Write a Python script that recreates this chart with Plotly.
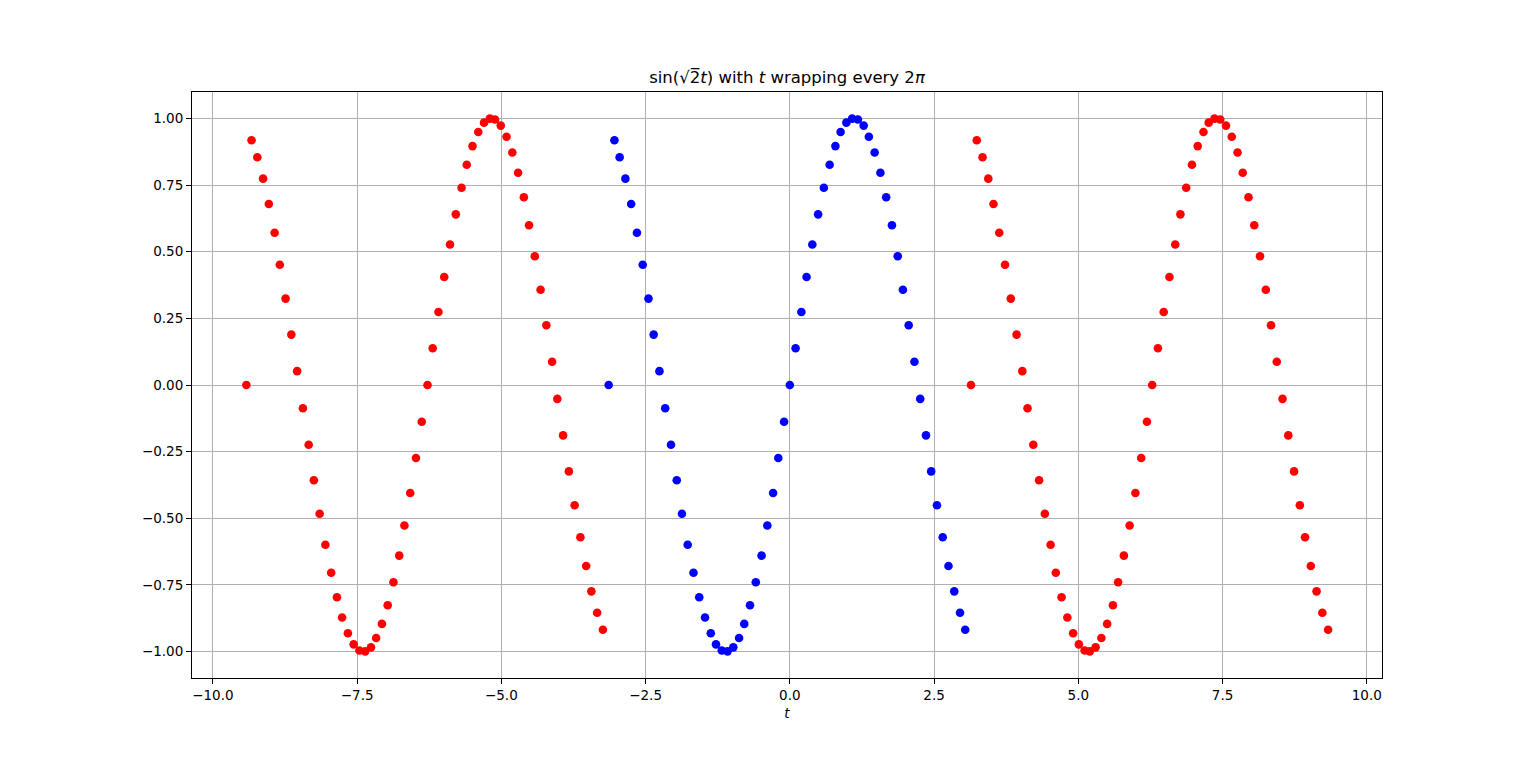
import plotly.graph_objects as go

# t values (wrapped segments)
t_left = [-9.42, -9.33, -9.23, -9.13, -9.03, -8.93, -8.84, -8.74, -8.64, -8.54, -8.44, -8.34, -8.25, -8.15, -8.05, -7.95,
          -7.85, -7.76, -7.66, -7.56, -7.46, -7.36, -7.26, -7.17, -7.07, -6.97, -6.87, -6.77, -6.68, -6.58, -6.48, -6.38,
          -6.28, -6.19, -6.09, -5.99, -5.89, -5.79, -5.69, -5.60, -5.50, -5.40, -5.30, -5.20, -5.11, -5.01, -4.91, -4.81,
          -4.71, -4.61, -4.52, -4.42, -4.32, -4.22, -4.12, -4.03, -3.93, -3.83, -3.73, -3.63, -3.53, -3.44, -3.34, -3.24]
t_mid = [-3.14, -3.04, -2.95, -2.85, -2.75, -2.65, -2.55, -2.45, -2.36, -2.26, -2.16, -2.06, -1.96, -1.87, -1.77, -1.67,
         -1.57, -1.47, -1.37, -1.28, -1.18, -1.08, -0.98, -0.88, -0.79, -0.69, -0.59, -0.49, -0.39, -0.29, -0.20, -0.10,
         0.00, 0.10, 0.20, 0.29, 0.39, 0.49, 0.59, 0.69, 0.79, 0.88, 0.98, 1.08, 1.18, 1.28, 1.37, 1.47,
         1.57, 1.67, 1.77, 1.87, 1.96, 2.06, 2.16, 2.26, 2.36, 2.45, 2.55, 2.65, 2.75, 2.85, 2.95, 3.04]
t_right = [3.14, 3.24, 3.34, 3.44, 3.53, 3.63, 3.73, 3.83, 3.93, 4.03, 4.12, 4.22, 4.32, 4.42, 4.52, 4.61,
           4.71, 4.81, 4.91, 5.01, 5.11, 5.20, 5.30, 5.40, 5.50, 5.60, 5.69, 5.79, 5.89, 5.99, 6.09, 6.19,
           6.28, 6.38, 6.48, 6.58, 6.68, 6.77, 6.87, 6.97, 7.07, 7.17, 7.26, 7.36, 7.46, 7.56, 7.66, 7.76,
           7.85, 7.95, 8.05, 8.15, 8.25, 8.34, 8.44, 8.54, 8.64, 8.74, 8.84, 8.93, 9.03, 9.13, 9.23, 9.33]

y_left = [0.000, 0.918, 0.854, 0.774, 0.679, 0.571, 0.451, 0.324, 0.189, 0.052, -0.087, -0.224, -0.357, -0.483, -0.599, -0.704,
          -0.796, -0.872, -0.931, -0.973, -0.996, -0.999, -0.984, -0.949, -0.896, -0.826, -0.740, -0.640, -0.527, -0.405, -0.274, -0.138,
          0.000, 0.138, 0.274, 0.405, 0.527, 0.640, 0.740, 0.826, 0.896, 0.949, 0.984, 0.999, 0.996, 0.973, 0.931, 0.872,
          0.796, 0.704, 0.599, 0.483, 0.357, 0.224, 0.087, -0.052, -0.189, -0.324, -0.451, -0.571, -0.679, -0.774, -0.854, -0.918]
y_mid = [0.000, 0.918, 0.854, 0.774, 0.679, 0.571, 0.451, 0.324, 0.189, 0.052, -0.087, -0.224, -0.357, -0.483, -0.599, -0.704,
         -0.796, -0.872, -0.931, -0.973, -0.996, -0.999, -0.984, -0.949, -0.896, -0.826, -0.740, -0.640, -0.527, -0.405, -0.274, -0.138,
         0.000, 0.138, 0.274, 0.405, 0.527, 0.640, 0.740, 0.826, 0.896, 0.949, 0.984, 0.999, 0.996, 0.973, 0.931, 0.872,
         0.796, 0.704, 0.599, 0.483, 0.357, 0.224, 0.087, -0.052, -0.189, -0.324, -0.451, -0.571, -0.679, -0.774, -0.854, -0.918]
y_right = [0.000, 0.918, 0.854, 0.774, 0.679, 0.571, 0.451, 0.324, 0.189, 0.052, -0.087, -0.224, -0.357, -0.483, -0.599, -0.704,
           -0.796, -0.872, -0.931, -0.973, -0.996, -0.999, -0.984, -0.949, -0.896, -0.826, -0.740, -0.640, -0.527, -0.405, -0.274, -0.138,
           0.000, 0.138, 0.274, 0.405, 0.527, 0.640, 0.740, 0.826, 0.896, 0.949, 0.984, 0.999, 0.996, 0.973, 0.931, 0.872,
           0.796, 0.704, 0.599, 0.483, 0.357, 0.224, 0.087, -0.052, -0.189, -0.324, -0.451, -0.571, -0.679, -0.774, -0.854, -0.918]

x_ticks = [-10.0, -7.5, -5.0, -2.5, 0.0, 2.5, 5.0, 7.5, 10.0]
y_ticks = [-1.00, -0.75, -0.50, -0.25, 0.00, 0.25, 0.50, 0.75, 1.00]

FONT = "DejaVu Sans"
msize = 8.6

fig = go.Figure()
for xs, ys, col in [(t_left, y_left, "#ff0000"), (t_mid, y_mid, "#0000ff"), (t_right, y_right, "#ff0000")]:
    fig.add_trace(go.Scatter(x=xs, y=ys, mode="markers",
                             marker=dict(color=col, size=msize, line=dict(width=0)),
                             showlegend=False, hoverinfo="x+y"))

axis_common = dict(showline=True, linecolor="black", linewidth=1.1, mirror=True,
                   ticks="outside", ticklen=5, tickwidth=1.1, tickcolor="black",
                   showgrid=True, gridcolor="#b0b0b0", gridwidth=1.1, zeroline=False,
                   tickfont=dict(family=FONT, size=13.5, color="black"))

fig.update_layout(
    width=1512, height=740,
    paper_bgcolor="white", plot_bgcolor="white",
    margin=dict(l=184, r=138, t=84, b=70, pad=0),
    title=dict(text="sin(√2\u0305<i>t</i>) with <i>t</i> wrapping every 2<i>π</i>",
               x=0.5, xref="paper", xanchor="center",
               y=1, yref="paper", yanchor="bottom", pad=dict(b=9),
               font=dict(family=FONT, size=16.5, color="black")),
    xaxis=dict(range=[-10.362, 10.264], tickvals=x_ticks, tickformat=".1f",
               title=dict(text="<i>t</i>", font=dict(family=FONT, size=13.5, color="black"), standoff=6),
               **axis_common),
    yaxis=dict(range=[-1.099, 1.099], tickvals=y_ticks, tickformat=".2f", **axis_common),
)

fig.write_html("out.html")
